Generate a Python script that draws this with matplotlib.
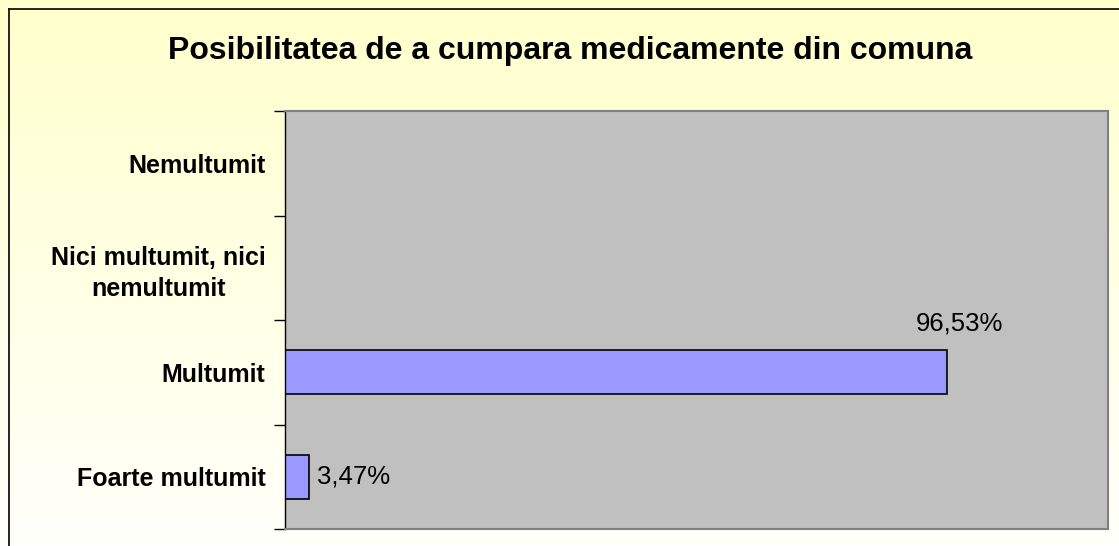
import numpy as np
import matplotlib.pyplot as plt
from matplotlib.lines import Line2D

plt.rcParams['font.family'] = ['Liberation Sans', 'DejaVu Sans']

# date
categories = ['Foarte multumit', 'Multumit', 'Nici multumit, nici\nnemultumit', 'Nemultumit']
values = [3.47, 96.53, None, None]
labels = ['3,47%', '96,53%', '', '']
title = 'Posibilitatea de a cumpara medicamente din comuna'

W, H = 1119, 546
fig = plt.figure(figsize=(W / 100, H / 100), dpi=100)

# fundal cu gradient (galben sus -> alb jos)
bg = fig.add_axes([0, 0, 1, 1], zorder=-10)
grad = np.linspace(0, 1, 256).reshape(-1, 1)
top = np.array([1.0, 1.0, 0.80])
bot = np.array([1.0, 1.0, 0.985])
img = top[None, None, :] * (1 - grad[:, :, None]) + bot[None, None, :] * grad[:, :, None]
bg.imshow(img, aspect='auto', extent=[0, 1, 0, 1], origin='upper')
bg.axis('off')

# cadru (doar stanga si sus sunt vizibile)
fig.add_artist(Line2D([9 / W, 9 / W], [0, 1 - 9 / H], transform=fig.transFigure, color='black', lw=1.2))
fig.add_artist(Line2D([9 / W, 1], [1 - 9 / H, 1 - 9 / H], transform=fig.transFigure, color='black', lw=1.2))

ax = fig.add_axes([285 / W, 17 / H, 823 / W, 418 / H])
ax.set_facecolor('#C0C0C0')

y = np.arange(len(categories))
vals = [v if v is not None else 0 for v in values]
bars = ax.barh(y, vals, height=0.42, color='#9999FF', edgecolor='black', linewidth=1.2)
for i, v in enumerate(values):
    if v is None:
        bars[i].set_visible(False)

ax.set_xlim(0, 120)
ax.set_ylim(-0.5, len(categories) - 0.5)
ax.set_xticks([])
ax.set_yticks(y)
ax.set_yticklabels(categories, fontsize=18, fontweight='bold', multialignment='center',
                   linespacing=1.35)
ax.set_yticks(np.arange(-0.5, len(categories)), minor=True)
ax.tick_params(axis='y', which='major', length=0, pad=14)
ax.tick_params(axis='y', which='minor', length=8, width=1, color='black', direction='out')

for s in ['top', 'right', 'bottom']:
    ax.spines[s].set_color('#808080')
    ax.spines[s].set_linewidth(1.5)
ax.spines['left'].set_color('black')
ax.spines['left'].set_linewidth(1)

# etichete valori
ax.annotate(labels[0], xy=(values[0], 0), xytext=(6, 0), textcoords='offset points',
            ha='left', va='center', fontsize=18.5)
ax.annotate(labels[1], xy=(values[1], 1 + 0.21), xytext=(9, 14), textcoords='offset points',
            ha='center', va='baseline', fontsize=18.5)

fig.text(570 / W, 1 - 51 / H, title, ha='center', va='center', fontsize=23, fontweight='bold')

fig.savefig('out.png', dpi=100)
